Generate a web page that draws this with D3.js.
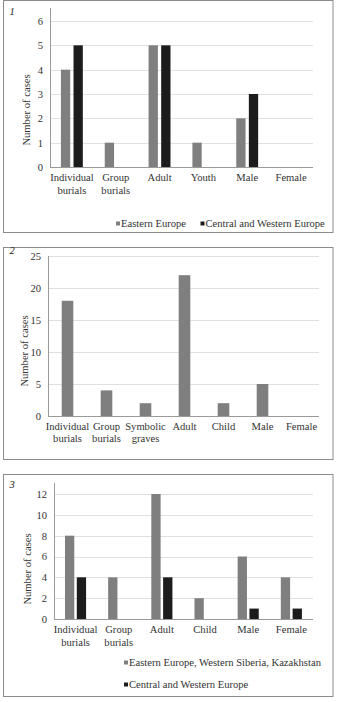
<!DOCTYPE html>
<html><head><meta charset="utf-8">
<script src="https://cdn.jsdelivr.net/npm/d3@7"></script>
<style>
body{margin:0;background:#fff;}
svg{display:block;}
</style></head>
<body><svg id="c" width="339" height="702"></svg>
<script>
// Panel 1
const cats1 = [["Individual","burials"],["Group","burials"],["Adult"],["Youth"],["Male"],["Female"]];
const p1East = [4,1,5,1,2,0];
const p1West = [5,0,5,0,3,0];
const ticks1 = [0,1,2,3,4,5,6];
// Panel 2
const cats2 = [["Individual","burials"],["Group","burials"],["Symbolic","graves"],["Adult"],["Child"],["Male"],["Female"]];
const p2East = [18,4,2,22,2,5,0];
const ticks2 = [0,5,10,15,20,25];
// Panel 3
const cats3 = [["Individual","burials"],["Group","burials"],["Adult"],["Child"],["Male"],["Female"]];
const p3East = [8,4,12,2,6,4];
const p3West = [4,0,4,0,1,1];
const ticks3 = [0,2,4,6,8,10,12];

const GRAY = "#7f7f7f", BLACK = "#1c1c1c";
const FONT = "Liberation Serif";
const FS = 10.6, TXT = "#333";
const svg = d3.select("#c");

function panel(o){
  const g = svg.append("g");
  g.append("rect").attr("x",o.fx).attr("y",o.fy).attr("width",o.fw).attr("height",o.fh)
    .attr("fill","#fff").attr("stroke","#8c8c8c").attr("stroke-width",1);
  g.append("text").attr("x",o.fx+6).attr("y",o.fy+o.numDy).attr("font-style","italic").attr("font-family",FONT)
    .attr("font-size",10.5).attr("fill","#222").text(o.num);
  const y = d3.scaleLinear().domain([0,o.ymax]).range([o.base,o.top]);
  const x = d3.scaleBand().domain(d3.range(o.cats.length)).range([o.left,o.right]);
  // grid
  g.selectAll(".grid").data(o.ticks.slice(1)).join("line")
    .attr("x1",o.left).attr("x2",o.gridRight).attr("y1",d=>Math.round(y(d))+0.5).attr("y2",d=>Math.round(y(d))+0.5)
    .attr("stroke","#e0e0e0").attr("stroke-width",1);
  // axis
  const ax = g.append("g").attr("transform",`translate(${o.left},0)`)
    .call(d3.axisLeft(y).tickValues(o.ticks).tickFormat(d3.format("d")).tickSize(0).tickPadding(7));
  ax.attr("font-family",FONT).attr("font-size",FS);
  ax.select(".domain").remove();
  ax.selectAll("text").attr("fill",TXT).attr("font-family",FONT).attr("font-size",FS);
  g.append("line").attr("x1",o.left+0.5).attr("x2",o.left+0.5).attr("y1",o.axTop).attr("y2",o.base)
    .attr("stroke","#9a9a9a");
  g.append("line").attr("x1",o.left).attr("x2",o.gridRight).attr("y1",o.base+0.5).attr("y2",o.base+0.5)
    .attr("stroke","#9a9a9a");
  // bars
  o.series.forEach((s,si)=>{
    g.selectAll(".b"+si).data(s.values).join("rect")
      .attr("x",(d,i)=>x(i)+x.bandwidth()/2+s.off)
      .attr("width",s.w)
      .attr("y",d=>y(d)).attr("height",d=>o.base-y(d))
      .attr("fill",s.color);
  });
  // category labels
  o.cats.forEach((c,i)=>{
    const t = g.append("text").attr("x",x(i)+x.bandwidth()/2).attr("y",o.labY).attr("font-family",FONT)
      .attr("text-anchor","middle").attr("font-size",FS).attr("fill",TXT);
    c.forEach((line,j)=>t.append("tspan").attr("x",x(i)+x.bandwidth()/2).attr("dy",j?12.5:0).text(line));
  });
  // y title
  g.append("text").attr("transform",`translate(${o.titleX},${o.titleY}) rotate(-90)`).attr("font-family",FONT)
    .attr("text-anchor","middle").attr("font-size",FS).attr("fill",TXT).text("Number of cases");
  // legend
  (o.legend||[]).forEach(l=>{
    g.append("rect").attr("x",l.x).attr("y",l.y-5.5).attr("width",4).attr("height",4).attr("fill",l.color);
    g.append("text").attr("x",l.x+5).attr("y",l.y).attr("font-family",FONT).attr("font-size",FS).attr("fill",TXT).text(l.text);
  });
}

panel({num:"1",numDy:14,fx:3.5,fy:0.5,fw:329.5,fh:232,left:50,right:313,gridRight:313,base:167,top:21,axTop:8,ymax:6,ticks:ticks1,
  cats:cats1,labY:181,titleX:30,titleY:110,
  series:[{values:p1East,color:GRAY,off:-11,w:9.3},{values:p1West,color:BLACK,off:1.6,w:9.3}],
  legend:[{x:116,y:227,color:GRAY,text:"Eastern Europe"},{x:200.5,y:227,color:BLACK,text:"Central and Western Europe"}]});

panel({num:"2",numDy:6.5,fx:3.5,fy:247.5,fw:329.5,fh:212,left:48,right:321,gridRight:319,base:416,top:256,axTop:256,ymax:25,ticks:ticks2,
  cats:cats2,labY:429.5,titleX:28,titleY:351,
  series:[{values:p2East,color:GRAY,off:-5.8,w:11.6}]});

panel({num:"3",numDy:13,fx:3.5,fy:474.5,fw:329.5,fh:222,left:54,right:313,gridRight:313,base:619,top:494,axTop:483,ymax:12,ticks:ticks3,
  cats:cats3,labY:633,titleX:31,titleY:569,
  series:[{values:p3East,color:GRAY,off:-10.6,w:9.3},{values:p3West,color:BLACK,off:1.2,w:9.3}],
  legend:[{x:124,y:666,color:GRAY,text:"Eastern Europe, Western Siberia, Kazakhstan"},{x:124,y:688,color:BLACK,text:"Central and Western Europe"}]});
</script></body></html>
